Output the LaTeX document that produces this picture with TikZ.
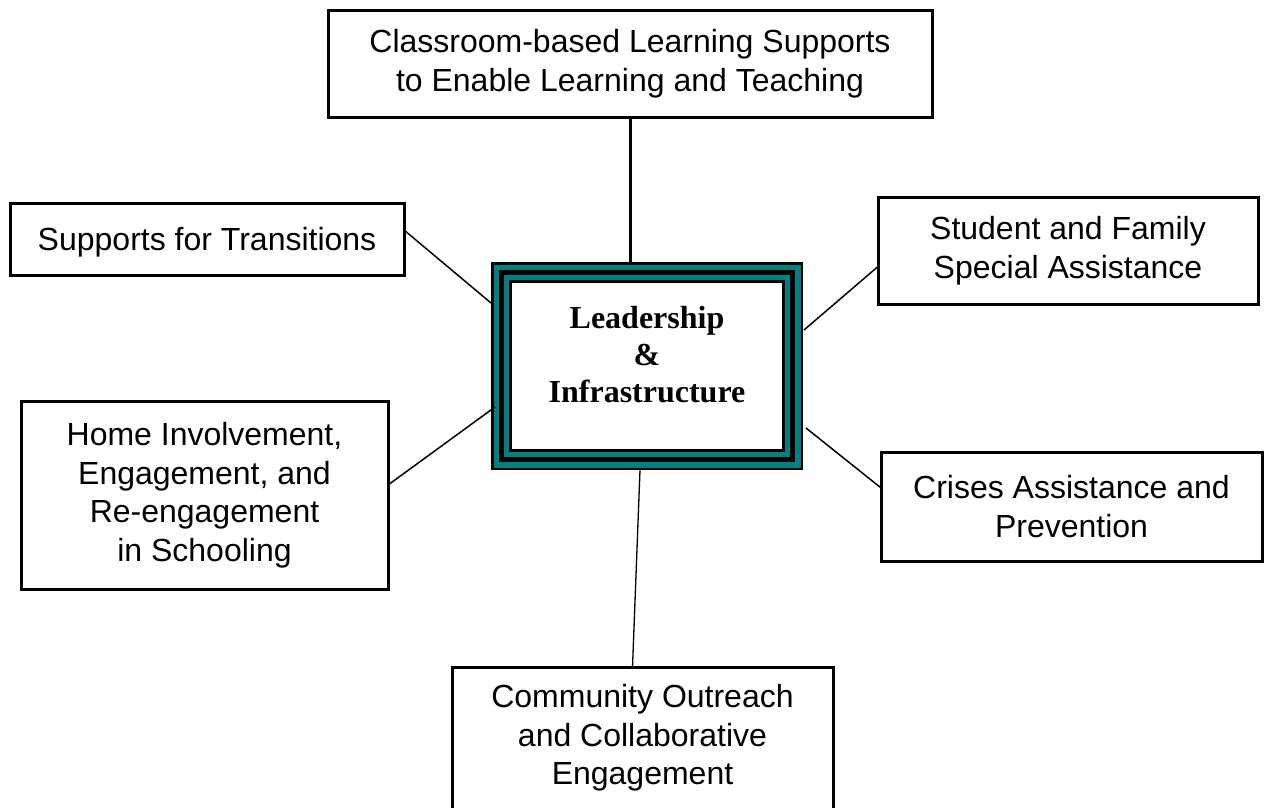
\documentclass[tikz,border=0pt]{standalone}
\usepackage{fontspec}
\setmainfont{Liberation Sans}
\newfontfamily\timesfont{Liberation Serif}
\usetikzlibrary{calc}
\definecolor{tealc}{RGB}{0,128,128}
\begin{document}
\begin{tikzpicture}[x=1pt,y=-1pt,
  box/.style={draw=black,line width=3pt,fill=white,align=center,inner sep=0pt,outer sep=0pt,
    font=\fontsize{32}{38.5}\selectfont,
    execute at begin node={\rule{0pt}{29.5pt}}},
  ctrbox/.style={minimum width=312pt,minimum height=208pt,inner sep=0pt,outer sep=0pt,fill=black,
    path picture={
      \fill[tealc] ($(path picture bounding box.north west)+(2.5pt,-2.5pt)$) rectangle ($(path picture bounding box.south east)+(-2.5pt,2.5pt)$);
      \fill[black] ($(path picture bounding box.north west)+(8pt,-8pt)$) rectangle ($(path picture bounding box.south east)+(-8pt,8pt)$);
      \fill[tealc] ($(path picture bounding box.north west)+(13pt,-13pt)$) rectangle ($(path picture bounding box.south east)+(-13pt,13pt)$);
      \fill[black] ($(path picture bounding box.north west)+(18pt,-18pt)$) rectangle ($(path picture bounding box.south east)+(-18pt,18pt)$);
      \fill[white] ($(path picture bounding box.north west)+(21pt,-21pt)$) rectangle ($(path picture bounding box.south east)+(-21pt,21pt)$);
    }},
  ctrtext/.style={align=center,inner sep=0pt,font=\timesfont\bfseries\fontsize{32}{37}\selectfont},
  link/.style={line width=1.5pt},
  thicklink/.style={line width=3pt}]
\useasboundingbox (0,0) rectangle (1265,807);

\node[box,minimum width=604pt,minimum height=107pt] (cls) at (630,63.5)
  {Classroom-based Learning Supports\\ to Enable Learning and Teaching};
\node[box,minimum width=394pt,minimum height=72pt] (sup) at (207,239)
  {Supports for Transitions};
\node[box,minimum width=380pt,minimum height=107pt] (stu) at (1068,250.5)
  {Student and Family\\ Special Assistance};
\node[box,minimum width=367pt,minimum height=188pt] (home) at (204.5,495)
  {Home Involvement,\\ Engagement, and\\ Re-engagement\\ in Schooling};
\node[box,minimum width=381pt,minimum height=109pt] (cri) at (1071.5,506.5)
  {Crises Assistance and\\ Prevention};
\node[box,minimum width=381pt,minimum height=142pt] (com) at (642.5,738)
  {Community Outreach\\ and Collaborative\\ Engagement};

\node[ctrbox] (ctr) at (647,366) {};
\node[ctrtext] (ctrt) at ($(ctr.center)+(0,-11)$) {Leadership\\ \&\\ Infrastructure};

\draw[thicklink] (cls.south) -- (cls.south |- ctr.north);
\draw[link] ($(sup.east)+(0,-9)$) -- ($(ctr.west)+(0,-63)$);
\draw[link] ($(stu.west)+(0,16)$) -- ($(ctr.east)+(1,-36)$);
\draw[link] ($(home.east)+(0,-10)$) -- ($(ctr.west)+(4,41)$);
\draw[link] ($(ctr.east)+(3,62)$) -- ($(cri.west)+(2,-17)$);
\draw[line width=1.3pt] ($(ctr.south)+(-7,0)$) -- ($(com.north)+(-10,0)$);
\end{tikzpicture}
\end{document}
